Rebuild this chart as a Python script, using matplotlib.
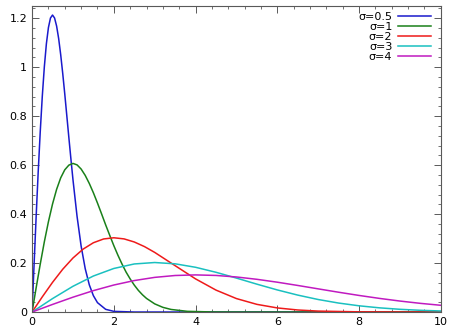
import matplotlib
matplotlib.use('Agg')
import matplotlib.pyplot as plt
from matplotlib.ticker import MultipleLocator, FuncFormatter

# values
x_s05 = [0, 0.05, 0.1, 0.15, 0.2, 0.25, 0.3, 0.35, 0.4, 0.45, 0.5, 0.55, 0.6,
         0.65, 0.7, 0.75, 0.8, 0.85, 0.9, 0.95, 1.0, 1.1, 1.2, 1.3, 1.4, 1.5,
         1.6, 1.8, 2.0, 2.5, 10]
y_s05 = [0, 0.199, 0.392, 0.574, 0.738, 0.882, 1.002, 1.096, 1.162, 1.201,
         1.213, 1.201, 1.168, 1.117, 1.051, 0.974, 0.890, 0.801, 0.712, 0.625,
         0.541, 0.391, 0.269, 0.177, 0.111, 0.0667, 0.0383, 0.011, 0.0027, 0, 0]

x_s1 = [0, 0.1, 0.2, 0.3, 0.4, 0.5, 0.6, 0.7, 0.8, 0.9, 1.0, 1.1, 1.2, 1.3,
        1.4, 1.5, 1.6, 1.7, 1.8, 1.9, 2.0, 2.1, 2.2, 2.3, 2.4, 2.5, 2.6, 2.7,
        2.8, 3.0, 3.2, 3.4, 3.8, 4.4, 5, 10]
y_s1 = [0, 0.0995, 0.196, 0.287, 0.369, 0.441, 0.501, 0.548, 0.581, 0.600,
        0.607, 0.601, 0.584, 0.558, 0.525, 0.487, 0.445, 0.401, 0.356, 0.313,
        0.271, 0.232, 0.196, 0.163, 0.135, 0.110, 0.0884, 0.0705, 0.0555,
        0.0333, 0.0191, 0.0105, 0.0028, 0.0003, 0, 0]

x_s2 = [0, 0.25, 0.5, 0.75, 1.0, 1.25, 1.5, 1.75, 2.0, 2.25, 2.5, 2.75, 3.0,
        3.5, 4.0, 4.5, 5.0, 5.5, 6.0, 6.5, 7.0, 8.0, 9.0, 10]
y_s2 = [0, 0.062, 0.1211, 0.1748, 0.2206, 0.2571, 0.283, 0.2984, 0.3033,
        0.2987, 0.2861, 0.2672, 0.2435, 0.1893, 0.1353, 0.0895, 0.0549,
        0.0313, 0.0167, 0.0083, 0.0038, 0.0007, 0.0001, 0]

x_s3 = [0, 0.5, 1.0, 1.5, 2.0, 2.5, 3.0, 3.5, 4.0, 4.5, 5.0, 5.5, 6.0, 6.5,
        7.0, 7.5, 8.0, 8.5, 9.0, 9.5, 10]
y_s3 = [0, 0.0548, 0.1051, 0.1471, 0.1779, 0.1963, 0.2022, 0.1969, 0.1827,
        0.1623, 0.1386, 0.1138, 0.0902, 0.0691, 0.0511, 0.0366, 0.0254,
        0.0171, 0.0111, 0.007, 0.0043]

x_s4 = [0, 0.5, 1.0, 1.5, 2.0, 2.5, 3.0, 3.5, 4.0, 4.5, 5.0, 5.5, 6.0, 6.5,
        7.0, 7.5, 8.0, 8.5, 9.0, 9.5, 10]
y_s4 = [0, 0.031, 0.0606, 0.0874, 0.1103, 0.1285, 0.1415, 0.1492, 0.1516,
        0.1494, 0.1431, 0.1336, 0.1218, 0.1085, 0.0946, 0.0808, 0.0677,
        0.0556, 0.0448, 0.0354, 0.0275]

labels = ['σ=0.5', 'σ=1', 'σ=2', 'σ=3', 'σ=4']
colors = ['#1a1acc', '#1a801a', '#ee1a1a', '#1ac0c0', '#c01ac0']

fig = plt.figure(figsize=(4.65, 3.33), dpi=100)
ax = fig.add_axes([0.069, 0.063, 0.879, 0.919])

series = [(x_s05, y_s05), (x_s1, y_s1), (x_s2, y_s2), (x_s3, y_s3), (x_s4, y_s4)]
for (xs, ys), lab, c in zip(series, labels, colors):
    ax.plot(xs, ys, color=c, lw=1.1, label=lab)

ax.set_xlim(0, 10)
ax.set_ylim(0, 1.25)
ax.xaxis.set_major_locator(MultipleLocator(2))
ax.xaxis.set_minor_locator(MultipleLocator(0.4))
ax.yaxis.set_major_locator(MultipleLocator(0.2))
ax.yaxis.set_minor_locator(MultipleLocator(0.04))
ax.yaxis.set_major_formatter(FuncFormatter(lambda v, p: f'{v:g}'))
ax.tick_params(which='both', direction='in', top=True, right=True,
               labelsize=8, colors='0.35', labelcolor='black')
ax.tick_params(which='major', length=5, width=0.7)
ax.tick_params(which='minor', length=2.5, width=0.6)
for s in ax.spines.values():
    s.set_color('0.35')
    s.set_linewidth(0.8)

ax.legend(loc='upper right', frameon=False, markerfirst=False, fontsize=8,
          handlelength=3, labelspacing=0.0, handletextpad=0.5,
          borderaxespad=0.1, bbox_to_anchor=(0.99, 1.0))

fig.savefig('out.png', dpi=100)
